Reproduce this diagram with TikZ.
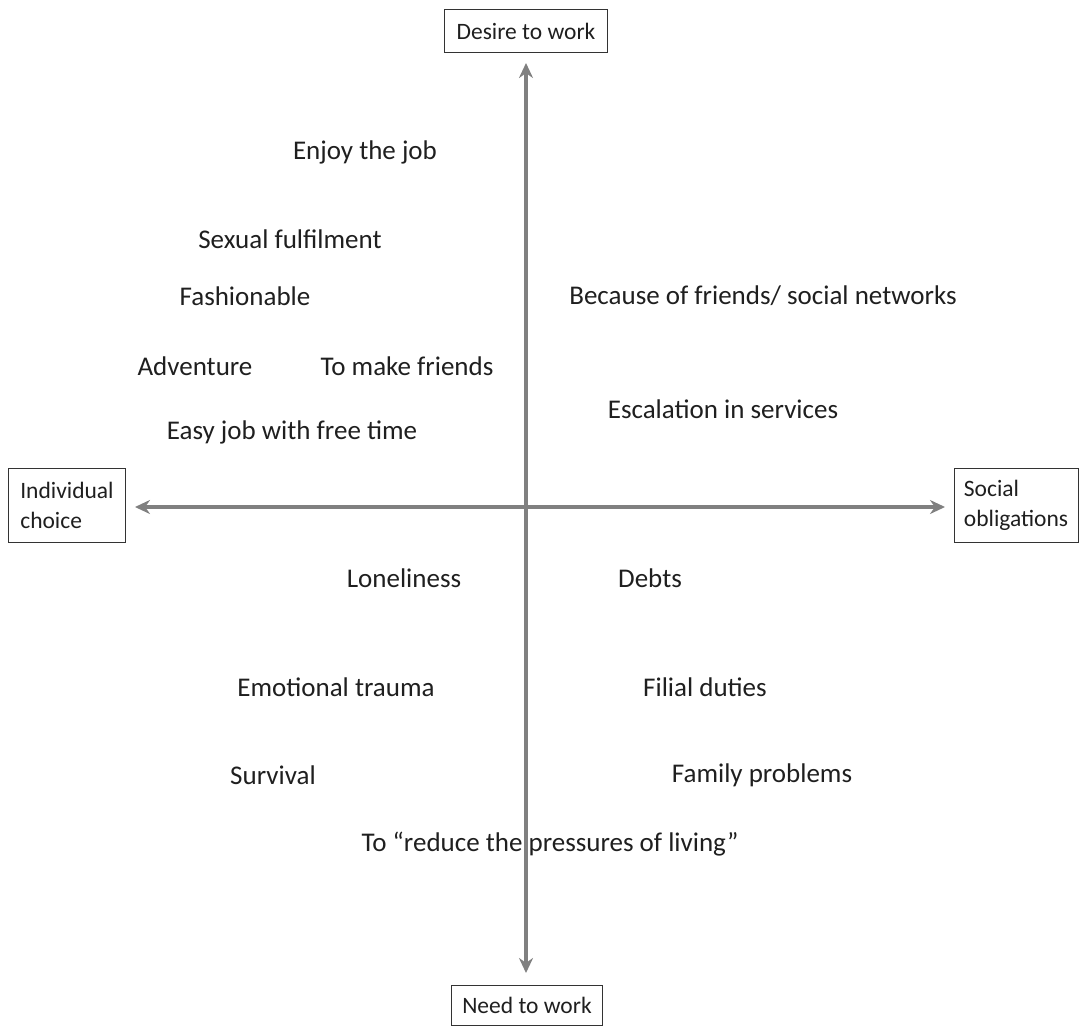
\documentclass[tikz,border=0pt]{standalone}
\usepackage{fontspec}
\setmainfont{Carlito}
\usetikzlibrary{arrows.meta}
\begin{document}
\begin{tikzpicture}[x=1pt,y=-1pt,
  lbl/.style={font=\fontsize{27}{32}\selectfont, inner sep=0pt, text=black!88},
  axbox/.style={draw=black!80, line width=0.9pt, font=\fontsize{23.5}{30}\selectfont, align=left, inner xsep=6pt, inner ysep=4pt, text=black!88},
  axis/.style={draw=black!50, line width=3.2pt, {Stealth[length=15pt,width=14pt]}-{Stealth[length=15pt,width=14pt]}}
]
\useasboundingbox (0,0) rectangle (1079,1026);
\node[axbox, minimum width=163pt, minimum height=43pt] (top) at (526,31) {Desire to work};
\node[axbox, minimum width=151pt, minimum height=40pt] (bot) at (527,1005) {Need to work};
\node[axbox, minimum width=117pt, minimum height=74pt] (left) at (67,505) {Individual\\choice};
\node[axbox, minimum width=124pt, minimum height=74pt] (right) at (1016,505) {Social\\obligations};
\coordinate (vt) at (526,63);
\coordinate (vb) at (526,973);
\coordinate (hl) at (135,507);
\coordinate (hr) at (945,507);
\draw[axis] (vt) -- (vb);
\draw[axis] (hl) -- (hr);
\node[lbl] (n1) at (365,152) {Enjoy the job};
\node[lbl] (n2) at (290,239) {Sexual fulfilment};
\node[lbl] (n3) at (245,296) {Fashionable};
\node[lbl] (n4) at (763,296) {Because of friends/ social networks};
\node[lbl] (n5) at (195,366) {Adventure};
\node[lbl] (n6) at (407,366) {To make friends};
\node[lbl] (n7) at (723,409) {Escalation in services};
\node[lbl] (n8) at (292,432) {Easy job with free time};
\node[lbl] (n9) at (404,578) {Loneliness};
\node[lbl] (n10) at (650,578) {Debts};
\node[lbl] (n11) at (336,687) {Emotional trauma};
\node[lbl] (n12) at (705,687) {Filial duties};
\node[lbl] (n13) at (273,775) {Survival};
\node[lbl] (n14) at (762,775) {Family problems};
\node[lbl] (n15) at (550,844) {To “reduce the pressures of living”};
\end{tikzpicture}
\end{document}
